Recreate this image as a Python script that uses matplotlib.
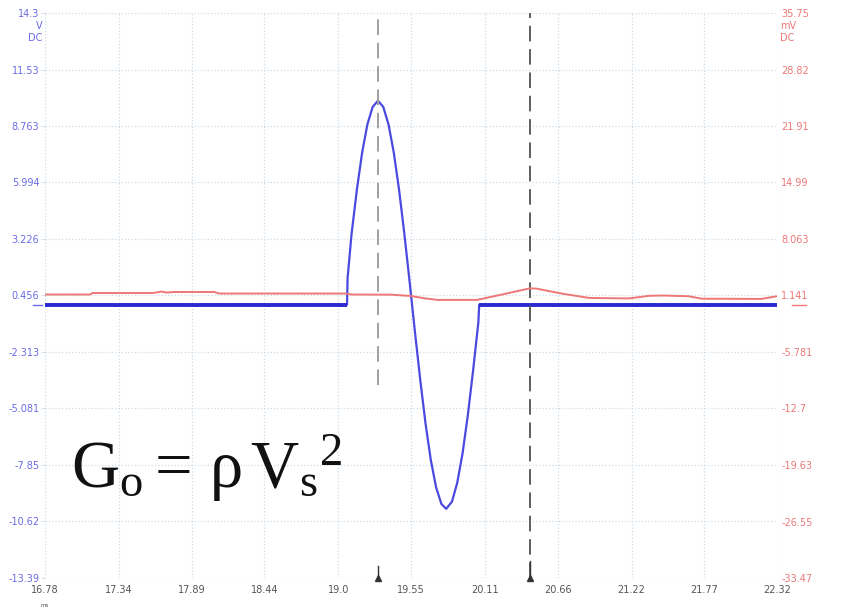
import matplotlib
matplotlib.use("Agg")
import matplotlib.pyplot as plt

# scope trace
t_blue=[16.78,19.066,19.07,19.10,19.14,19.18,19.22,19.26,19.30,19.34,19.38,19.42,19.46,19.50,19.54,
        19.58,19.62,19.66,19.70,19.74,19.78,19.816,19.86,19.90,19.94,19.98,20.02,20.06,20.066,22.32]
v_blue=[0.0,0.0,1.3,3.46,5.62,7.45,8.84,9.70,10.0,9.70,8.84,7.45,5.62,3.46,1.10,
        -1.34,-3.68,-5.82,-7.61,-8.95,-9.76,-10.0,-9.65,-8.72,-7.29,-5.42,-3.22,-0.85,0.0,0.0]

t_red=[16.78,17.12,17.14,17.60,17.66,17.70,17.76,18.06,18.10,19.05,19.10,19.40,19.55,19.65,19.75,
       20.05,20.25,20.45,20.50,20.70,20.90,21.20,21.35,21.45,21.65,21.75,22.20,22.32]
v_red=[1.26,1.26,1.45,1.45,1.62,1.50,1.57,1.57,1.38,1.38,1.26,1.24,1.08,0.80,0.60,
       0.60,1.30,2.02,1.98,1.35,0.84,0.78,1.10,1.14,1.05,0.75,0.72,1.05]

cursor_t=[19.30,20.45]

x_ticks=[16.78,17.34,17.89,18.44,19.0,19.55,20.11,20.66,21.22,21.77,22.32]
x_labels=["16.78","17.34","17.89","18.44","19.0","19.55","20.11","20.66","21.22","21.77","22.32"]
yl_ticks=[14.3,11.53,8.763,5.994,3.226,0.456,-2.313,-5.081,-7.85,-10.62,-13.39]
yl_labels=["14.3","11.53","8.763","5.994","3.226","0.456","-2.313","-5.081","-7.85","-10.62","-13.39"]
yr_ticks=[35.75,28.82,21.91,14.99,8.063,1.141,-5.781,-12.7,-19.63,-26.55,-33.47]
yr_labels=["35.75","28.82","21.91","14.99","8.063","1.141","-5.781","-12.7","-19.63","-26.55","-33.47"]

plt.rcParams['mathtext.fontset']='custom'
plt.rcParams['mathtext.rm']='Liberation Serif'
plt.rcParams['mathtext.it']='Liberation Serif:italic'

blue='#2a2ad0'
pblue='#4a4ae0'
lblue='#6b6be6'
red='#ee7777'
gridc='#cddbe8'

fig=plt.figure(figsize=(8.66,6.09),dpi=100)
ax=fig.add_axes([45/866,1-578/609,732/866,565/609])
ax2=ax.twinx()
for a in (ax,ax2):
    for s in a.spines.values():
        s.set_visible(False)

ax.set_xlim(x_ticks[0],x_ticks[-1])
ax.set_ylim(yl_ticks[-1],yl_ticks[0])
ax2.set_ylim(yr_ticks[-1],yr_ticks[0])

ax.set_xticks(x_ticks)
ax.set_xticklabels(x_labels)
ax.set_yticks(yl_ticks)
ax.set_yticklabels(yl_labels)
ax2.set_yticks(yr_ticks)
ax2.set_yticklabels(yr_labels)
ax.tick_params(axis='x',length=0,pad=5,labelsize=7,labelcolor='#555555')
ax.tick_params(axis='y',length=3,width=0.6,color=gridc,pad=1,labelsize=7,labelcolor=lblue)
ax2.tick_params(axis='y',length=0,pad=3,labelsize=7,labelcolor=red)
ax.grid(True,linestyle=':',color=gridc,linewidth=0.9)

# pulse thinner, flat baseline thicker like on the scope screen
ax.plot(t_blue,v_blue,color=pblue,lw=1.6,zorder=3)
ax.plot(t_blue[:2],v_blue[:2],color=blue,lw=2.8,zorder=3,solid_capstyle='butt')
ax.plot(t_blue[-2:],v_blue[-2:],color=blue,lw=2.8,zorder=3,solid_capstyle='butt')
ax2.plot(t_red,v_red,color=red,lw=1.4,zorder=2)

ax.axvline(cursor_t[0],ymin=(578-385)/565,ymax=1,color='#a0a0a0',lw=1.4,ls=(0,(8,4)),zorder=4)
ax.axvline(cursor_t[1],ymin=0,ymax=1,color='#5e5e5e',lw=1.4,ls=(0,(8,4)),zorder=4)
for ct,h in zip(cursor_t,[0.022,0.03]):
    ax.axvline(ct,ymin=0,ymax=h,color='#333333',lw=1.0,zorder=5)
    ax.plot([ct],[yl_ticks[-1]],marker='^',ms=4,color='#333333',clip_on=False,zorder=5)

# ground markers at zero of each channel
ax.plot([-0.016,-0.004],[0,0],transform=ax.get_yaxis_transform(),color=lblue,lw=1.0,clip_on=False)
ax2.plot([1.020,1.040],[0,0],transform=ax2.get_yaxis_transform(),color=red,lw=1.0,clip_on=False)

# unit labels under the top values
ax.text(-0.004,0.986,"V\nDC",transform=ax.transAxes,ha='right',va='top',fontsize=7,color=lblue,linespacing=1.2)
ax.text(1.004,0.986,"mV\nDC",transform=ax.transAxes,ha='left',va='top',fontsize=7,color=red,linespacing=1.2)
ax.text(0.0,-0.045,"ms",transform=ax.transAxes,ha='center',va='top',fontsize=4,color='#555555')

ax.text(16.98,-8.97,r'$\mathrm{G_o = \,\rho\, V_s{}^{2}}$',fontsize=48,color='#111111',ha='left',va='baseline',zorder=6)

fig.savefig("out.png",dpi=100)
